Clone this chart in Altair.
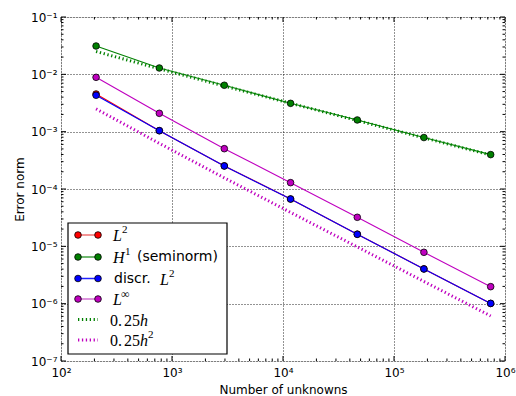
import altair as alt
import pandas as pd

# ---- data ----
N = [207, 769, 2960, 11700, 46700, 186000, 743000]
err_l2 = [4.54e-3, 1.04e-3, 2.53e-4, 6.7e-5, 1.63e-5, 4.04e-6, 1.01e-6]
err_h1 = [0.0312, 0.0129, 6.45e-3, 3.12e-3, 1.6e-3, 7.9e-4, 3.98e-4]
err_dl2 = [4.31e-3, 1.04e-3, 2.52e-4, 6.68e-5, 1.62e-5, 4.03e-6, 1.01e-6]
err_linf = [8.87e-3, 2.09e-3, 5.05e-4, 1.29e-4, 3.21e-5, 7.87e-6, 1.98e-6]
ref_h = [0.025, 0.0125, 0.00625, 0.003125, 0.0015625, 0.00078125, 0.000390625]
ref_h2 = [2.5e-3, 6.25e-4, 1.5625e-4, 3.906e-5, 9.77e-6, 2.44e-6, 6.1e-7]

x_major = [1e2, 1e3, 1e4, 1e5, 1e6]
y_major = [1e-7, 1e-6, 1e-5, 1e-4, 1e-3, 1e-2, 1e-1]
x_minor = [k * 10.0 ** e for e in range(2, 6) for k in range(2, 10)]
y_minor = [k * 10.0 ** e for e in range(-7, -1) for k in range(2, 10)]

W, H = 444, 344
SANS = "DejaVu Sans"
SERIF = "Liberation Serif"

xs = alt.Scale(type="log", domain=[1e2, 1e6], nice=False)
ys = alt.Scale(type="log", domain=[1e-7, 1e-1], nice=False)

sup = "['⁰','¹','²','³','⁴','⁵','⁶','⁷']"
xaxis = alt.Axis(values=x_major, labelExpr="'10' + " + sup + "[round(log(datum.value)/LN10)]",
                 title="Number of unknowns", grid=True, gridDash=[1, 2], gridColor="black",
                 gridOpacity=0.85, ticks=False, domain=False, labelFont=SANS, labelFontSize=12,
                 labelColor="black", labelPadding=6, labelFlush=False, labelOverlap=False,
                 titleFont=SANS, titleFontSize=12, titleFontWeight="normal", titleColor="black",
                 titlePadding=6)
yaxis = alt.Axis(values=y_major, labelExpr="'10⁻' + " + sup + "[round(-log(datum.value)/LN10)]",
                 title="Error norm", grid=True, gridDash=[1, 2], gridColor="black",
                 gridOpacity=0.85, ticks=False, domain=False, labelFont=SANS, labelFontSize=12,
                 labelColor="black", labelPadding=4, labelFlush=False, labelOverlap=False,
                 titleFont=SANS, titleFontSize=12, titleFontWeight="normal", titleColor="black",
                 titlePadding=4)


def X(f):
    return alt.X(f + ":Q", scale=xs, axis=xaxis)


def Y(f):
    return alt.Y(f + ":Q", scale=ys, axis=yaxis)


layers = []

# minor/major inward ticks on all four sides
for vals, ln in ((x_minor, 2.5), (x_major, 5)):
    d = pd.DataFrame({"t": vals})
    layers.append(alt.Chart(d).mark_rule(color="black", strokeWidth=1).encode(
        x=X("t"), y=alt.value(H), y2=alt.value(H - ln)))
    layers.append(alt.Chart(d).mark_rule(color="black", strokeWidth=1).encode(
        x=X("t"), y=alt.value(0), y2=alt.value(ln)))
for vals, ln in ((y_minor, 2.5), (y_major, 5)):
    d = pd.DataFrame({"t": vals})
    layers.append(alt.Chart(d).mark_rule(color="black", strokeWidth=1).encode(
        y=Y("t"), x=alt.value(0), x2=alt.value(ln)))
    layers.append(alt.Chart(d).mark_rule(color="black", strokeWidth=1).encode(
        y=Y("t"), x=alt.value(W), x2=alt.value(W - ln)))

# reference dotted lines
for vals, col in ((ref_h, "#008000"), (ref_h2, "#bf00bf")):
    d = pd.DataFrame({"N": N, "e": vals})
    layers.append(alt.Chart(d).mark_line(color=col, strokeWidth=3, strokeDash=[1.3, 2.6]).encode(
        x=X("N"), y=Y("e")))

# data series
series = [(err_l2, "#ff0000"), (err_h1, "#008000"), (err_dl2, "#0000ff"), (err_linf, "#bf00bf")]
for vals, col in series:
    d = pd.DataFrame({"N": N, "e": vals})
    layers.append(alt.Chart(d).mark_line(color=col, strokeWidth=1.1).encode(x=X("N"), y=Y("e")))
    layers.append(alt.Chart(d).mark_point(filled=True, fill=col, stroke="black", strokeWidth=0.8,
                                          size=44, opacity=1).encode(x=X("N"), y=Y("e")))

# ---- manual legend ----
one = pd.DataFrame({"a": [0]})
layers.append(alt.Chart(one).mark_rect(fill="white", stroke="black", strokeWidth=1.2).encode(
    x=alt.value(7), x2=alt.value(166), y=alt.value(206), y2=alt.value(337)))

rows_y = [218, 240, 261.5, 282, 302.5, 323]
leg_colors = ["#ff0000", "#008000", "#0000ff", "#bf00bf", "#008000", "#bf00bf"]
leg_lines = ["#f07070", "#40a040", "#2020ff", "#d070d0"]
for i, yv in enumerate(rows_y):
    col = leg_colors[i]
    if i < 4:
        layers.append(alt.Chart(one).mark_rule(color=leg_lines[i], strokeWidth=1.5).encode(
            x=alt.value(17), x2=alt.value(37), y=alt.value(yv)))
        for xv in (17, 37):
            layers.append(alt.Chart(one).mark_point(filled=True, fill=col, stroke="black",
                                                    strokeWidth=0.8, size=44, opacity=1).encode(
                x=alt.value(xv), y=alt.value(yv)))
    else:
        layers.append(alt.Chart(one).mark_rule(color=col, strokeWidth=3, strokeDash=[1.3, 2.6]).encode(
            x=alt.value(17), x2=alt.value(37), y=alt.value(yv)))


def txt(x, y, s, font=SERIF, size=16, style="normal"):
    return alt.Chart(one).mark_text(align="left", baseline="middle", font=font, fontSize=size,
                                    fontStyle=style, color="black").encode(
        x=alt.value(x), y=alt.value(y), text=alt.value(s))


layers += [
    txt(52, rows_y[0] + 1, "L", style="italic"), txt(61, rows_y[0] - 5, "2", size=11),
    txt(52, rows_y[1] + 1, "H", style="italic"), txt(64, rows_y[1] - 5, "1", size=11),
    txt(76, rows_y[1], "(seminorm)", font=SANS, size=14),
    txt(53, rows_y[2], "discr.", font=SANS, size=14),
    txt(99, rows_y[2] + 1, "L", style="italic"), txt(108, rows_y[2] - 5, "2", size=11),
    txt(52, rows_y[3] + 1, "L", style="italic"), txt(60, rows_y[3] - 5, "∞", size=12),
    txt(49, rows_y[4] + 1, "0.", size=16), txt(63, rows_y[4] + 1, "25", size=16),
    txt(79, rows_y[4] + 1, "h", style="italic"),
    txt(49, rows_y[5] + 1, "0.", size=16), txt(63, rows_y[5] + 1, "25", size=16),
    txt(79, rows_y[5] + 1, "h", style="italic"), txt(87, rows_y[5] - 5, "2", size=11),
]

chart = alt.layer(*layers).properties(
    width=W, height=H,
    padding={"left": 61, "top": 17, "right": 11, "bottom": 35},
    autosize=alt.AutoSizeParams(type="none"),
).configure_view(stroke="black", strokeWidth=1.3).configure(background="white")

chart.save("out.html", embed_options={"renderer": "svg", "actions": False})
